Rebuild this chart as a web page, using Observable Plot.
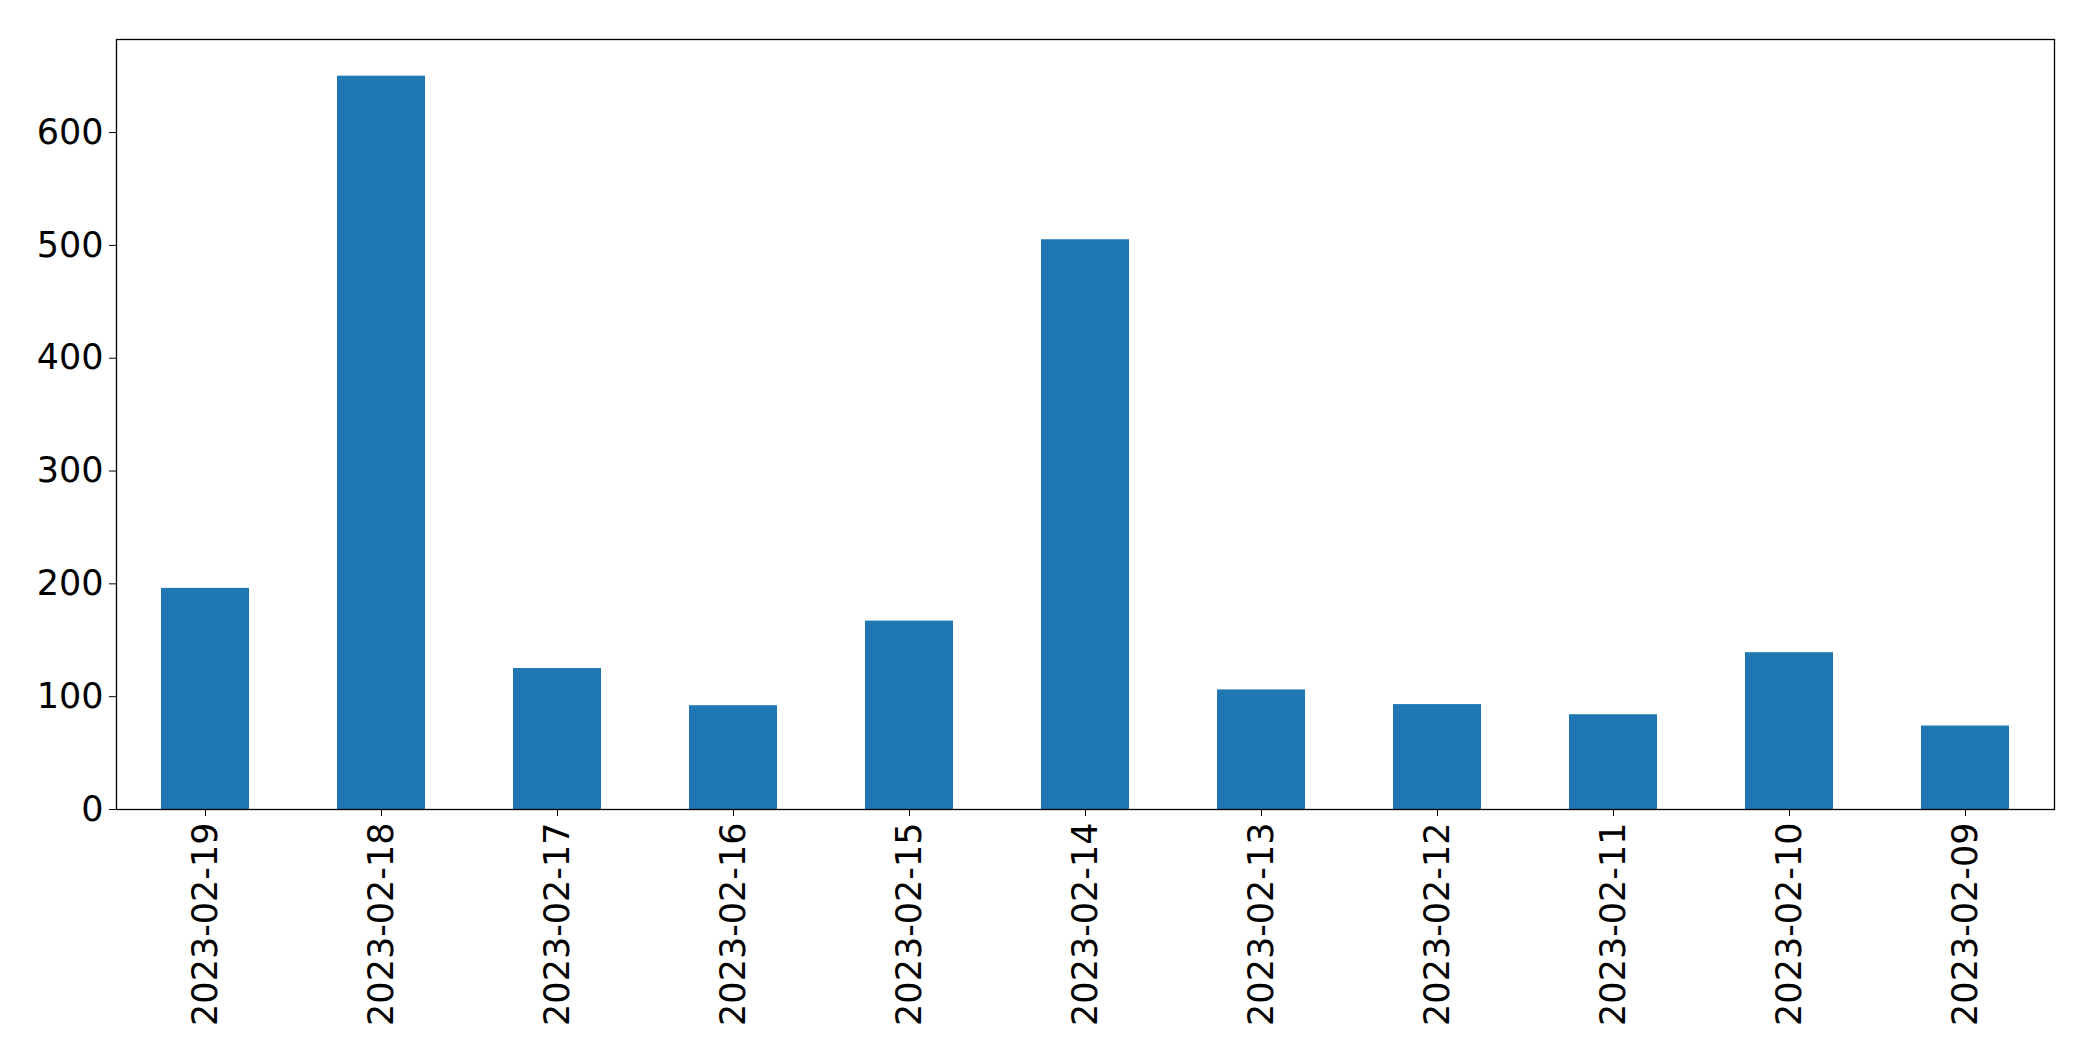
<!DOCTYPE html>
<html>
<head>
<meta charset="utf-8">
<script src="https://cdn.jsdelivr.net/npm/d3@7"></script>
<script src="https://cdn.jsdelivr.net/npm/@observablehq/plot@0.6"></script>
<style>
  html, body { margin: 0; padding: 0; background: #fff; }
</style>
</head>
<body>
<div id="chart"></div>
<script>
const dates = ["2023-02-19","2023-02-18","2023-02-17","2023-02-16","2023-02-15","2023-02-14","2023-02-13","2023-02-12","2023-02-11","2023-02-10","2023-02-09"];
const counts = [196, 650, 125, 92, 167, 505, 106, 93, 84, 139, 74];
const yTicks = [0, 100, 200, 300, 400, 500, 600];

const data = dates.map((d, i) => ({date: d, count: counts[i]}));

const chart = Plot.plot({
  width: 2093,
  height: 1061,
  marginLeft: 116,
  marginRight: 39,
  marginTop: 39,
  marginBottom: 252,
  style: {fontFamily: "DejaVu Sans", fontSize: "35px", color: "black", background: "white"},
  x: {domain: dates, paddingInner: 0.5, paddingOuter: 0.25, label: null, tickRotate: -90, tickSize: 7, tickPadding: 6},
  y: {domain: [0, 682.5], ticks: yTicks, label: null, tickSize: 7, tickPadding: 6},
  marks: [
    Plot.barY(data, {x: "date", y: "count", fill: "#1f77b4"}),
    Plot.frame({stroke: "black", strokeWidth: 1.3})
  ]
});
document.getElementById("chart").appendChild(chart);
</script>
</body>
</html>
